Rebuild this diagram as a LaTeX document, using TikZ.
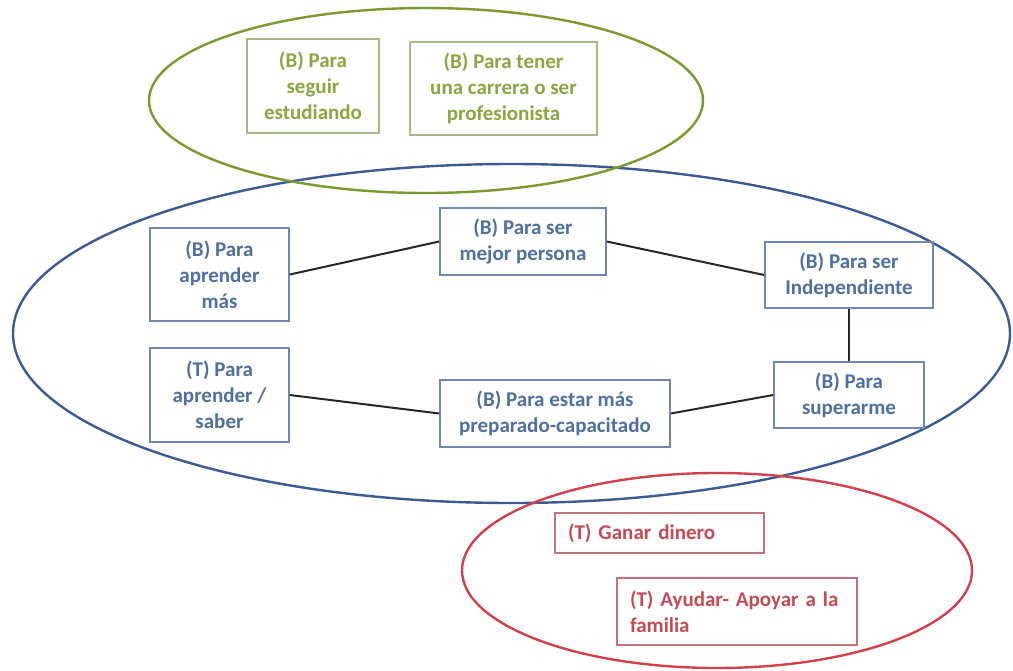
\documentclass[tikz,border=0pt]{standalone}
\usepackage{fontspec}
\setmainfont{Carlito}
\definecolor{blueRing}{HTML}{3B5A93}
\definecolor{blueFrame}{HTML}{7088B0}
\definecolor{blueInk}{HTML}{4F6F9F}
\definecolor{greenRing}{HTML}{7A9A30}
\definecolor{greenFrame}{HTML}{A9B985}
\definecolor{greenInk}{HTML}{8AA640}
\definecolor{redRing}{HTML}{D2404E}
\definecolor{redFrame}{HTML}{C8707A}
\definecolor{redInk}{HTML}{C44A55}
\tikzset{
  ring/.style={line width=2.4pt},
  box/.style={draw, rectangle, line width=1.6pt, inner sep=0pt, align=center,
    font=\fontsize{21}{26}\selectfont\bfseries},
  bluebox/.style={box, draw=blueFrame, text=blueInk},
  greenbox/.style={box, draw=greenFrame, text=greenInk},
  redbox/.style={box, draw=redFrame, text=redInk, align=left, inner xsep=13pt},
  link/.style={line width=2pt, black!85}
}
\begin{document}
\begin{tikzpicture}[x={(1pt,0)}, y={(0,-1pt)}]
\useasboundingbox (0,0) rectangle (1013,670);

% group outlines
\draw[ring, blueRing] (511.5,333.5) ellipse [x radius=498.5pt, y radius=169.5pt];
\draw[ring, greenRing] (426,100.5) ellipse [x radius=277pt, y radius=92.5pt];
\draw[ring, redRing] (717,570.5) ellipse [x radius=255pt, y radius=97.5pt];

% top group
\node[greenbox, minimum width=132pt, minimum height=94pt] (g1) at (313,86)
  {(B) Para\\seguir\\estudiando};
\node[greenbox, minimum width=187pt, minimum height=93pt] (g2) at (503.5,88.5)
  {(B) Para tener\\una carrera o ser\\profesionista};

% middle group
\node[bluebox, minimum width=139pt, minimum height=93pt] (b1) at (219.5,274.5)
  {(B) Para\\aprender\\más};
\node[bluebox, minimum width=166pt, minimum height=67pt] (b2) at (523,241.5)
  {(B) Para ser\\mejor persona};
\node[bluebox, minimum width=168pt, minimum height=66pt] (b3) at (849,275)
  {(B) Para ser\\Independiente};
\node[bluebox, minimum width=150pt, minimum height=66pt] (b4) at (849,395)
  {(B) Para\\superarme};
\node[bluebox, minimum width=230pt, minimum height=67pt] (b5) at (555,413.5)
  {(B) Para estar más\\preparado-capacitado};
\node[bluebox, minimum width=139pt, minimum height=94pt] (b6) at (219.5,395)
  {(T) Para\\aprender /\\saber};

\draw[link] (b1.east) -- (b2.west);
\draw[link] (b2.east) -- (b3.west);
\draw[link] (b3.south) -- (b4.north);
\draw[link] (b4.west) -- (b5.east);
\draw[link] (b5.west) -- (b6.east);

% bottom group
\node[redbox, text width=183pt, minimum height=40pt] (r1) at (659.5,533)
  {(T) Ganar dinero};
\node[redbox, text width=214pt, minimum height=67pt] (r2) at (737,611.5)
  {(T) Ayudar- Apoyar a la\\familia};
\end{tikzpicture}
\end{document}
